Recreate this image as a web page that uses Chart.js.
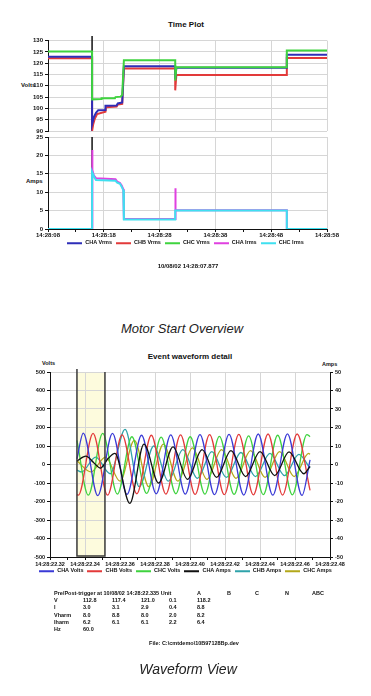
<!DOCTYPE html>
<html lang="en">
<head>
<meta charset="utf-8">
<title>Motor start overview</title>
<script src="https://cdn.jsdelivr.net/npm/chart.js@4.4.1/dist/chart.umd.min.js"></script>
<style>
  html, body { margin: 0; padding: 0; background: #fff; }
  body { position: relative; width: 371px; height: 696px; overflow: hidden; font-family: 'Liberation Sans', Arial, sans-serif; color: #111; }
  .abs { position: absolute; white-space: nowrap; line-height: 1; }
  .title { font-size: 8px; font-weight: bold; transform: translate(-50%, -50%); }
  .tiny { font-size: 6px; font-weight: bold; transform: translateY(-50%); }
  .centered { transform: translate(-50%, -50%); }
  .caption { font-size: 13px; font-style: italic; color: #222; transform: translate(-50%, -50%); }
  canvas { position: absolute; left: 0; }
  .legend { position: absolute; left: 0; width: 371px; display: flex; justify-content: center; align-items: center; font-size: 5.5px; font-weight: bold; line-height: 1; transform: translateY(-50%); }
  .legend .item { display: flex; align-items: center; margin: 0 2px; }
  .legend .swatch { display: inline-block; width: 15px; height: 1.5px; margin-right: 3px; }
</style>
</head>
<body>
<div class="abs title" style="left:186px; top:25px;">Time Plot</div>
<div class="abs tiny" style="left:21px; top:85px;">Volts</div>
<div class="abs tiny" style="left:26px; top:181px;">Amps</div>
<canvas id="volt-chart" width="371" height="102" style="top:35px;"></canvas>
<canvas id="amp-chart" width="371" height="109" style="top:131px;"></canvas>
<div class="legend" id="top-legend" style="top:243px;"></div>
<div class="abs tiny centered" style="left:188px; top:266px;">10/08/02 14:28:07.877</div>
<div class="abs caption" style="left:182px; top:328px;">Motor Start Overview</div>

<div class="abs title" style="left:190px; top:357px;">Event waveform detail</div>
<div class="abs tiny" style="left:42px; top:364px; font-size:5.5px;">Volts</div>
<div class="abs tiny" style="left:322px; top:365px; font-size:5.5px;">Amps</div>
<canvas id="wave-chart" width="371" height="207" style="top:362px;"></canvas>
<div class="legend" id="wave-legend" style="top:571px;"></div>
<div id="stats"></div>
<div class="abs tiny centered" style="left:194px; top:644px; font-size:5.5px;">File: C:\cmtdemo\10B97128Bp.dev</div>
<div class="abs caption" style="left:188px; top:669px; font-size:14px;">Waveform View</div>

<script>
// ---- time plot: seconds after 14:28:08 ----
const topTimeLabels = ['14:28:08', '14:28:18', '14:28:28', '14:28:38', '14:28:48', '14:28:58'];
const topSeriesNames = ['CHA Vrms', 'CHB Vrms', 'CHC Vrms', 'CHA Irms', 'CHC Irms'];
const topSeriesColors = ['#2e2eb8', '#e23a3a', '#3fd43f', '#e040e0', '#3fe0f0'];
const triggerTime = 7.9;

const chaVrms = [
  [0, 122.8], [7.9, 122.8], [7.9, 93], [8.2, 96], [8.6, 98], [9.0, 99.2], [10.3, 99.3],
  [10.3, 101.2], [12.3, 101.3], [12.5, 102.2], [13.3, 102.6], [13.6, 118.6], [22.8, 118.6],
  [22.8, 113], [23.0, 118], [42.8, 118], [42.8, 123.7], [50, 123.7],
];
const chbVrms = [
  [0, 122.2], [7.9, 122.2], [7.9, 90], [8.1, 93], [8.4, 95.5], [8.8, 97.5], [10.3, 98.5],
  [10.4, 100.5], [12.3, 100.8], [12.5, 101.7], [13.3, 102], [13.6, 117.6], [22.8, 117.6],
  [22.8, 108], [23.0, 114.8], [42.8, 114.8], [42.8, 122.3], [50, 122.3],
];
const chcVrms = [
  [0, 125.2], [7.9, 125.2], [7.9, 104], [9.5, 104.2], [9.6, 104.5], [12.0, 104.5], [12.1, 105],
  [13.0, 105.2], [13.3, 106], [13.6, 121.3], [22.8, 121.3], [22.8, 112.3], [23.0, 118.2],
  [42.8, 118.2], [42.8, 125.6], [50, 125.6],
];
const chaIrms = [
  [0, 0], [7.9, 0], [7.9, 21.5], [8.0, 16], [8.2, 14.6], [8.6, 13.8], [12.1, 13.5], [12.4, 12.9],
  [12.9, 12.5], [13.2, 11.8], [13.5, 10.8], [13.6, 2.7], [22.8, 2.7], [22.8, 11.1], [22.9, 5.1],
  [42.8, 5.1], [42.8, 0], [50, 0],
];
const chcIrms = [
  [0, 0], [7.9, 0], [7.9, 15.5], [8.3, 14], [8.6, 13.3], [12.1, 13.1], [12.4, 12.6], [12.9, 12.3],
  [13.2, 11.5], [13.5, 10.5], [13.6, 2.6], [22.8, 2.6], [22.8, 5.0], [42.8, 5.0], [42.8, 0], [50, 0],
];

// ---- waveform detail: ms after 14:28:22.32 ----
const waveTimeLabels = [
  '14:28:22.32', '14:28:22.34', '14:28:22.36', '14:28:22.38', '14:28:22.40',
  '14:28:22.42', '14:28:22.44', '14:28:22.46', '14:28:22.48',
];
const waveSeriesNames = ['CHA Volts', 'CHB Volts', 'CHC Volts', 'CHA Amps', 'CHB Amps', 'CHC Amps'];
const waveSeriesColors = ['#3a3ad6', '#e33a3a', '#3fd23f', '#111111', '#2fa3aa', '#b3a81a'];
const cursorStartMs = 15.4;
const cursorEndMs = 31.4;

const chaVolts = [
  [15.4, 30], [19.0, 170], [27.3, -168], [35.7, 168], [44.0, -162], [52.3, 158], [60.7, -158],
  [69.0, 160], [77.3, -160], [85.7, 162], [94.0, -163], [102.3, 163], [110.7, -165], [119.0, 165],
  [127.3, -166], [135.7, 166], [144.0, -167], [148.6, 25],
];
const chbVolts = [
  [15.4, -163], [16.2, -166], [24.6, 168], [32.9, -166], [41.2, 160], [49.6, -158], [57.9, 158],
  [66.2, -160], [74.6, 160], [82.9, -162], [91.2, 162], [99.6, -163], [107.9, 163], [116.2, -164],
  [124.6, 165], [132.9, -165], [141.2, 165], [148.6, -140],
];
const chcVolts = [
  [15.4, 130], [21.9, -166], [30.1, 168], [38.5, -160], [46.8, 150], [55.2, -156], [63.5, 148],
  [71.9, -158], [80.1, 150], [88.5, -160], [96.8, 152], [105.2, -162], [113.5, 155], [121.9, -163],
  [130.1, 158], [138.5, -164], [146.8, 162], [148.6, 150],
];
const chaAmps = [
  [15.4, 2], [20.5, 4.5], [25.0, 1], [28.8, -2], [33.0, 3], [37.1, 6], [45.6, -21], [53.7, 11],
  [62.1, -10], [70.3, 9.5], [78.6, -8], [86.9, 8], [95.2, -7], [103.4, 7.5], [111.8, -6.5],
  [120.0, 7], [128.4, -6], [136.6, 6.8], [145.0, -5], [148.6, -1],
];
const chbAmps = [
  [15.4, -3], [18.0, -4], [26.1, 4], [34.4, -5], [42.9, 19], [51.0, -12], [59.3, 10], [67.6, -9],
  [75.9, 8], [84.2, -7.5], [92.5, 7], [100.8, -7], [109.1, 6.5], [117.4, -6.5], [125.7, 6],
  [134.0, -6], [142.2, 5.5], [148.6, -2],
];
const chcAmps = [
  [15.4, 2], [23.4, -4], [31.7, 4], [40.0, -9], [48.2, 13], [56.5, -12], [64.8, 11], [73.1, -9],
  [81.4, 9], [89.7, -8], [98.0, 8], [106.3, -7.5], [114.6, 7.5], [122.9, -7], [131.2, 7],
  [139.5, -6.5], [147.8, 6], [148.6, 5.5],
];

// ---- summary table under the waveform ----
const statHeader = 'Pre/Post-trigger at 10/08/02 14:28:22.335 Unit';
const statPhases = ['A', 'B', 'C', 'N', 'ABC'];
const statRows = [
  ['V', '112.8', '117.4', '121.0', '0.1', '118.2'],
  ['I', '3.0', '3.1', '2.9', '0.4', '8.8'],
  ['Vharm', '8.0', '8.8', '8.0', '2.0', '8.2'],
  ['Iharm', '6.2', '6.1', '6.1', '2.2', '6.4'],
  ['Hz', '60.0'],
];

const tickFont = { family: 'Liberation Sans', size: 6, weight: 'bold' };
const waveFont = { family: 'Liberation Sans', size: 5.5, weight: 'bold' };
const textColor = '#111';
const gridGrey = '#d6d6d6';
const axisBlack = '#111';
const clear = 'rgba(0,0,0,0)';

const pts = (pairs) => pairs.map(([x, y]) => ({ x, y }));

const stepLine = (label, pairs, color, order) => ({
  label,
  data: pts(pairs),
  borderColor: color,
  backgroundColor: color,
  borderWidth: 2,
  pointRadius: 0,
  tension: 0,
  order,
});

// black trigger marker, poking a little above the panel top
const triggerLine = (min, max) => ({
  label: 'Trigger',
  data: pts([[triggerTime, min], [triggerTime, max]]),
  borderColor: axisBlack,
  borderWidth: 1.5,
  pointRadius: 0,
  clip: 6,
  order: 9,
});

const timeAxis = (showLabels) => ({
  type: 'linear',
  min: 0,
  max: 50,
  ticks: {
    display: showLabels,
    stepSize: 5,
    autoSkip: false,
    maxRotation: 0,
    padding: 0,
    font: tickFont,
    color: textColor,
    callback: (v) => (v % 10 === 0 ? topTimeLabels[v / 10] : ''),
  },
  grid: {
    color: (ctx) => (ctx.tick && ctx.tick.value % 10 === 0 ? gridGrey : clear),
    drawTicks: showLabels,
    tickColor: axisBlack,
    tickLength: 3,
  },
  border: { display: showLabels, color: axisBlack },
  afterFit: (scale) => { scale.height = showLabels ? 11 : 0; },
});

const valueAxis = (min, max, step) => ({
  min,
  max,
  ticks: { stepSize: step, font: tickFont, color: textColor, padding: 2 },
  grid: { color: gridGrey, tickColor: axisBlack, tickLength: 3 },
  border: { color: axisBlack },
  afterFit: (scale) => { scale.width = 48; },
});

const baseOptions = (padding) => ({
  responsive: false,
  animation: false,
  layout: { padding },
  plugins: { legend: { display: false }, tooltip: { enabled: false } },
  elements: { point: { radius: 0 } },
});

new Chart(document.querySelector('#volt-chart'), {
  type: 'line',
  data: {
    datasets: [
      stepLine(topSeriesNames[0], chaVrms, topSeriesColors[0], 2),
      stepLine(topSeriesNames[1], chbVrms, topSeriesColors[1], 3),
      stepLine(topSeriesNames[2], chcVrms, topSeriesColors[2], 1),
      triggerLine(90, 132),
    ],
  },
  options: {
    ...baseOptions({ left: 0, right: 44, top: 5, bottom: 6 }),
    scales: { x: timeAxis(false), y: valueAxis(90, 130, 5) },
  },
});

new Chart(document.querySelector('#amp-chart'), {
  type: 'line',
  data: {
    datasets: [
      stepLine(topSeriesNames[3], chaIrms, topSeriesColors[3], 2),
      stepLine(topSeriesNames[4], chcIrms, topSeriesColors[4], 1),
      triggerLine(0, 25),
    ],
  },
  options: {
    ...baseOptions({ left: 0, right: 44, top: 6, bottom: 0 }),
    scales: { x: timeAxis(true), y: valueAxis(0, 25, 5) },
  },
});

// pale cursor window with dark edges
const cursorBox = {
  id: 'cursorBox',
  beforeDraw(chart) {
    const { ctx, chartArea, scales } = chart;
    const x0 = scales.x.getPixelForValue(cursorStartMs);
    const x1 = scales.x.getPixelForValue(cursorEndMs);
    ctx.save();
    ctx.fillStyle = '#fdfbdd';
    ctx.fillRect(x0, chartArea.top, x1 - x0, chartArea.bottom - chartArea.top);
    ctx.restore();
  },
  afterDatasetsDraw(chart) {
    const { ctx, chartArea, scales } = chart;
    const x0 = scales.x.getPixelForValue(cursorStartMs);
    const x1 = scales.x.getPixelForValue(cursorEndMs);
    ctx.save();
    ctx.strokeStyle = '#3a3a3a';
    ctx.lineWidth = 1.5;
    ctx.beginPath();
    ctx.moveTo(x0, chartArea.top - 3);
    ctx.lineTo(x0, chartArea.bottom - 1);
    ctx.lineTo(x1, chartArea.bottom - 1);
    ctx.lineTo(x1, chartArea.top);
    ctx.stroke();
    ctx.restore();
  },
};

const waveLine = (label, pairs, color, axis, order) => ({
  label,
  data: pts(pairs),
  yAxisID: axis,
  borderColor: color,
  backgroundColor: color,
  borderWidth: 1.3,
  pointRadius: 0,
  cubicInterpolationMode: 'monotone',
  order,
});

new Chart(document.querySelector('#wave-chart'), {
  type: 'line',
  data: {
    datasets: [
      waveLine(waveSeriesNames[0], chaVolts, waveSeriesColors[0], 'volts', 1),
      waveLine(waveSeriesNames[1], chbVolts, waveSeriesColors[1], 'volts', 2),
      waveLine(waveSeriesNames[2], chcVolts, waveSeriesColors[2], 'volts', 3),
      waveLine(waveSeriesNames[3], chaAmps, waveSeriesColors[3], 'amps', 0),
      waveLine(waveSeriesNames[4], chbAmps, waveSeriesColors[4], 'amps', 4),
      waveLine(waveSeriesNames[5], chcAmps, waveSeriesColors[5], 'amps', 5),
    ],
  },
  options: {
    ...baseOptions({ left: 0, right: 0, top: 10, bottom: 0 }),
    scales: {
      x: {
        type: 'linear',
        min: 0,
        max: 160,
        ticks: {
          stepSize: 10,
          autoSkip: false,
          maxRotation: 0,
          padding: 1,
          font: waveFont,
          color: textColor,
          callback: (v) => (v % 20 === 0 ? waveTimeLabels[v / 20] : ''),
        },
        grid: {
          color: (ctx) => (ctx.tick && ctx.tick.value % 20 === 0 ? gridGrey : clear),
          tickColor: axisBlack,
          tickLength: 3,
        },
        border: { color: axisBlack },
        afterFit: (scale) => { scale.height = 12; },
      },
      volts: {
        position: 'left',
        min: -500,
        max: 500,
        ticks: {
          stepSize: 50,
          font: waveFont,
          color: textColor,
          padding: 2,
          callback: (v) => (v % 100 === 0 ? String(v) : ''),
        },
        grid: {
          color: (ctx) => (ctx.tick && ctx.tick.value % 100 === 0 ? gridGrey : clear),
          tickColor: axisBlack,
          tickLength: 3,
        },
        border: { color: axisBlack },
        afterFit: (scale) => { scale.width = 50; },
      },
      amps: {
        position: 'right',
        min: -50,
        max: 50,
        ticks: {
          stepSize: 5,
          font: waveFont,
          color: textColor,
          padding: 2,
          callback: (v) => (v % 10 === 0 ? String(v) : ''),
        },
        grid: { drawOnChartArea: false, tickColor: axisBlack, tickLength: 3 },
        border: { color: axisBlack },
        afterFit: (scale) => { scale.width = 41; },
      },
    },
  },
  plugins: [cursorBox],
});

const buildLegend = (id, names, colors) => {
  const box = document.getElementById(id);
  names.forEach((name, i) => {
    const item = document.createElement('span');
    item.className = 'item';
    const swatch = document.createElement('span');
    swatch.className = 'swatch';
    swatch.style.background = colors[i];
    item.append(swatch, document.createTextNode(name));
    box.append(item);
  });
};

buildLegend('top-legend', topSeriesNames, topSeriesColors);
buildLegend('wave-legend', waveSeriesNames, waveSeriesColors);

// table layout
const statColX = [54, 83, 112, 141, 169, 197];
const statPhaseX = [197, 227, 255, 285, 312];
const statTopY = 594;
const statRowGap = 7.2;

const stats = document.getElementById('stats');
const addCell = (text, x, y) => {
  const cell = document.createElement('div');
  cell.className = 'abs tiny';
  cell.style.fontSize = '5.5px';
  cell.style.left = `${x}px`;
  cell.style.top = `${y}px`;
  cell.textContent = text;
  stats.append(cell);
};

addCell(statHeader, statColX[0], statTopY);
statPhases.forEach((p, i) => addCell(p, statPhaseX[i], statTopY));
statRows.forEach((row, r) => {
  row.forEach((text, c) => addCell(text, statColX[c], statTopY + (r + 1) * statRowGap));
});
</script>
</body>
</html>
